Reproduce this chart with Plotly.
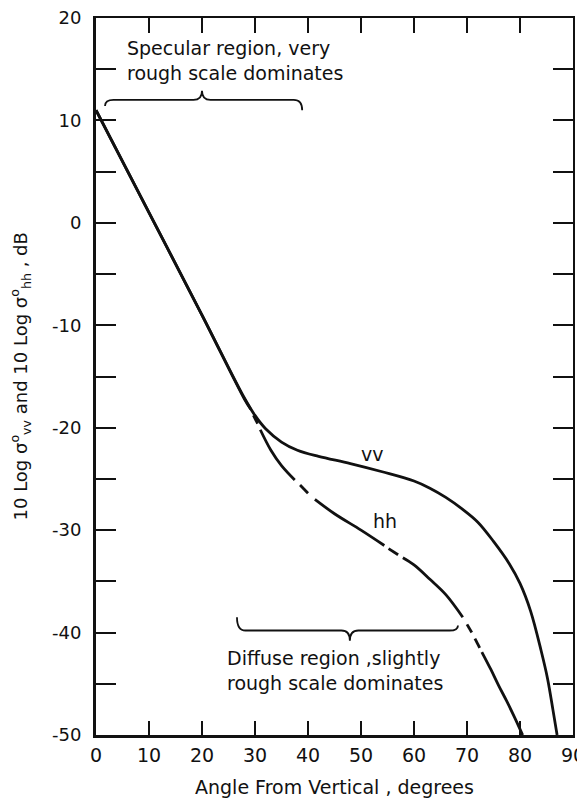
import plotly.graph_objects as go

# ---- data ----
angle_vv = [0, 10, 20, 28, 30, 32, 35, 38, 42, 48, 54, 60, 63, 66, 69, 72, 75, 78, 80, 82,
            84, 85.2, 86.2, 87]
db_vv = [11, 1, -9, -17.1, -18.8, -20.1, -21.4, -22.2, -22.8, -23.5, -24.3, -25.2, -25.9, -26.8,
         -27.9, -29.2, -31.1, -33.3, -35.2, -37.9, -41.8, -44.5, -47.5, -50.0]

# hh curve, None marks the breaks of the broken line in the drawing
angle_hh = [0, 10, 20, 28, 29.2, None, 29.7, 30.5, None, 31, 33, 35, 37.5, None, 38.5, 40, None,
            41.3, 45, 50, 54.4, None, 55.2, 57, None, 57.9, 60, 63, 66, 69.2, None, 70, 70.9, None,
            71.5, 72.4, None, 72.8, 74.5, 76, 77.5, 79, 80.5]
db_hh = [11, 1, -9, -17.2, -18.2, None, -18.8, -19.6, None, -20.2, -22.2, -23.7, -25.1, None,
         -25.6, -26.4, None, -27.0, -28.4, -30.0, -31.5, None, -31.8, -32.4, None, -32.7, -33.4,
         -34.8, -36.3, -38.5, None, -39.2, -40.0, None, -40.6, -41.5, None, -41.9, -43.6, -45.2,
         -46.7, -48.3, -50.0]

x_ticks = [0, 10, 20, 30, 40, 50, 60, 70, 80, 90]
x_tick_labels = ["0", "10", "20", "30", "40", "50", "60", "70", "80", "90"]
y_ticks = [-50, -40, -30, -20, -10, 0, 10, 20]
y_tick_labels = ["-50", "-40", "-30", "-20", "-10", "0", "10", "20"]

# braces: (x start, x end, x tip, y of bar, y of tip, y left end, y right end)
brace_specular = (1.7, 38.9, 20.0, 12.0, 12.9, 11.4, 11.0)
brace_diffuse = (26.6, 68.3, 47.9, -39.8, -40.8, -38.5, -39.3)

FONT = "DejaVu Sans"
INK = "#111111"

# the page adds an 8px body margin, so the figure is sized to the visible area
W, H = 577, 792
ML, MR, MT, MB = 88, 12, 10, 65


def brace_path(b, r=1.6):
    x0, x1, xm, yh, yt, ye0, ye1 = b
    return (f"M {x0},{ye0} Q {x0},{yh} {x0 + r},{yh} "
            f"L {xm - r},{yh} Q {xm},{yh} {xm},{yt} "
            f"Q {xm},{yh} {xm + r},{yh} "
            f"L {x1 - r},{yh} Q {x1},{yh} {x1},{ye1}")


fig = go.Figure()
fig.add_trace(go.Scatter(x=angle_vv, y=db_vv, mode="lines",
                         line=dict(color=INK, width=2.8, shape="spline", smoothing=1.0),
                         showlegend=False, hoverinfo="skip"))
fig.add_trace(go.Scatter(x=angle_hh, y=db_hh, mode="lines", connectgaps=False,
                         line=dict(color=INK, width=2.8, shape="spline", smoothing=1.0),
                         showlegend=False, hoverinfo="skip"))
fig.add_trace(go.Scatter(x=[], y=[], xaxis="x2", yaxis="y2", showlegend=False))

for b in (brace_specular, brace_diffuse):
    fig.add_shape(type="path", path=brace_path(b), xref="x", yref="y",
                  line=dict(color=INK, width=1.8))

fig.add_annotation(x=5.5, y=15.9, xref="x", yref="y", xanchor="left", yanchor="middle",
                   text="Specular region, very<br>rough scale dominates", showarrow=False,
                   align="left", font=dict(family=FONT, size=19, color=INK))
fig.add_annotation(x=24.3, y=-43.7, xref="x", yref="y", xanchor="left", yanchor="middle",
                   text="Diffuse region ,slightly<br>rough scale dominates", showarrow=False,
                   align="left", font=dict(family=FONT, size=19, color=INK))
fig.add_annotation(x=52.1, y=-22.6, xref="x", yref="y", text="vv", showarrow=False,
                   font=dict(family=FONT, size=19, color=INK))
fig.add_annotation(x=54.5, y=-29.1, xref="x", yref="y", text="hh", showarrow=False,
                   font=dict(family=FONT, size=19, color=INK))

# axis titles
fig.add_annotation(x=0, y=0.5, xref="paper", yref="paper", xanchor="center", yanchor="middle",
                   xshift=-(ML - 12), textangle=-90, showarrow=False,
                   text="10 Log σ<sup>o</sup><sub>vv</sub> and 10 Log σ<sup>o</sup><sub>hh</sub> , dB",
                   font=dict(family=FONT, size=18, color=INK))
fig.add_annotation(x=0.5, y=0, xref="paper", yref="paper", xanchor="center", yanchor="middle",
                   yshift=-52, showarrow=False, text="Angle From Vertical , degrees",
                   font=dict(family=FONT, size=19, color=INK))

fig.update_layout(
    width=W, height=H, autosize=False,
    margin=dict(l=ML, r=MR, t=MT, b=MB),
    paper_bgcolor="white", plot_bgcolor="white",
    font=dict(family=FONT, color=INK),
    xaxis=dict(range=[0, 90], automargin=False, showline=True, linewidth=3, linecolor=INK,
               showgrid=False, zeroline=False, ticks="inside", ticklen=14, tickwidth=1.5,
               tickcolor=INK, tickvals=x_ticks, ticktext=x_tick_labels,
               ticklabeloverflow="allow", ticklabelstandoff=1,
               tickfont=dict(family=FONT, size=19)),
    xaxis2=dict(range=[0, 90], overlaying="x", side="top", automargin=False, showline=True,
                linewidth=1.5, linecolor=INK, showgrid=False, zeroline=False, ticks="inside",
                ticklen=15, tickwidth=1.5, tickcolor=INK, tickvals=x_ticks,
                showticklabels=False),
    yaxis=dict(range=[-50, 20], automargin=False, showline=True, linewidth=3, linecolor=INK,
               showgrid=False, zeroline=False, ticks="inside", ticklen=20, tickwidth=1.5,
               tickcolor=INK, tickvals=y_ticks, ticktext=y_tick_labels,
               ticklabeloverflow="allow", ticklabelstandoff=8,
               tickfont=dict(family=FONT, size=18),
               minor=dict(dtick=5, tick0=0, ticks="inside", ticklen=20, tickwidth=1.5,
                          tickcolor=INK, showgrid=False)),
    yaxis2=dict(range=[-50, 20], overlaying="y", side="right", automargin=False, showline=True,
                linewidth=1.5, linecolor=INK, showgrid=False, zeroline=False, ticks="inside",
                ticklen=20, tickwidth=1.5, tickcolor=INK, dtick=5, tick0=0,
                showticklabels=False),
)

fig.write_html("out.html")
